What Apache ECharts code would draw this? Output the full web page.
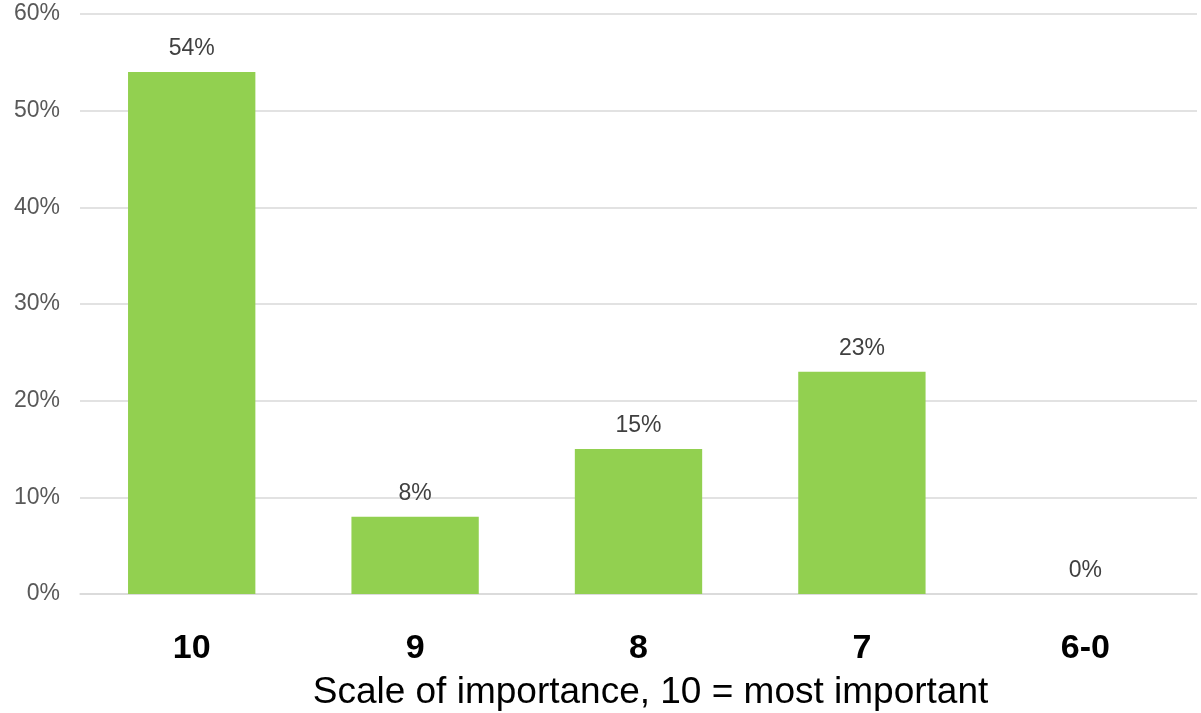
<!DOCTYPE html>
<html><head><meta charset="utf-8">
<script src="https://cdn.jsdelivr.net/npm/echarts@6/dist/echarts.min.js"></script>
<style>html,body{margin:0;padding:0;background:#fff}#c{width:1201px;height:713px}</style>
</head><body><div id="c"></div>
<script>
const categories = ['10', '9', '8', '7', '6-0'];
const values = [54, 8, 15, 23, 0];
const yTicks = [0, 10, 20, 30, 40, 50, 60];
const axisName = 'Scale of importance, 10 = most important';

const chart = echarts.init(document.getElementById('c'));
chart.setOption({
  animation: false,
  grid: { left: 80, right: 4, top: 14, bottom: 119, containLabel: false, outerBoundsMode: 'none' },
  xAxis: {
    type: 'category', data: categories,
    name: axisName, nameLocation: 'middle', nameGap: 80,
    nameTextStyle: { fontFamily: 'Liberation Sans', fontSize: 37, color: '#000', padding: [0, 0, 0, 24] },
    axisLine: { show: true, lineStyle: { color: '#D9D9D9', width: 1.5 } },
    axisTick: { show: false },
    axisLabel: { fontFamily: 'Liberation Sans', fontSize: 34, fontWeight: 'bold', color: '#000', margin: 38 }
  },
  yAxis: {
    type: 'value', min: yTicks[0], max: yTicks[yTicks.length - 1], interval: 10,
    axisLine: { show: false }, axisTick: { show: false },
    splitLine: { lineStyle: { color: '#D9D9D9', width: 1.5 } },
    axisLabel: { fontFamily: 'Liberation Sans', fontSize: 23, color: '#595959', margin: 20, formatter: v => v + '%' }
  },
  series: [{
    type: 'bar', data: values, barCategoryGap: '43%',
    itemStyle: { color: '#92D050' },
    label: { show: true, position: 'top', distance: 12, fontFamily: 'Liberation Sans', fontSize: 23, color: '#404040', formatter: p => p.value + '%' }
  }]
});
</script></body></html>
